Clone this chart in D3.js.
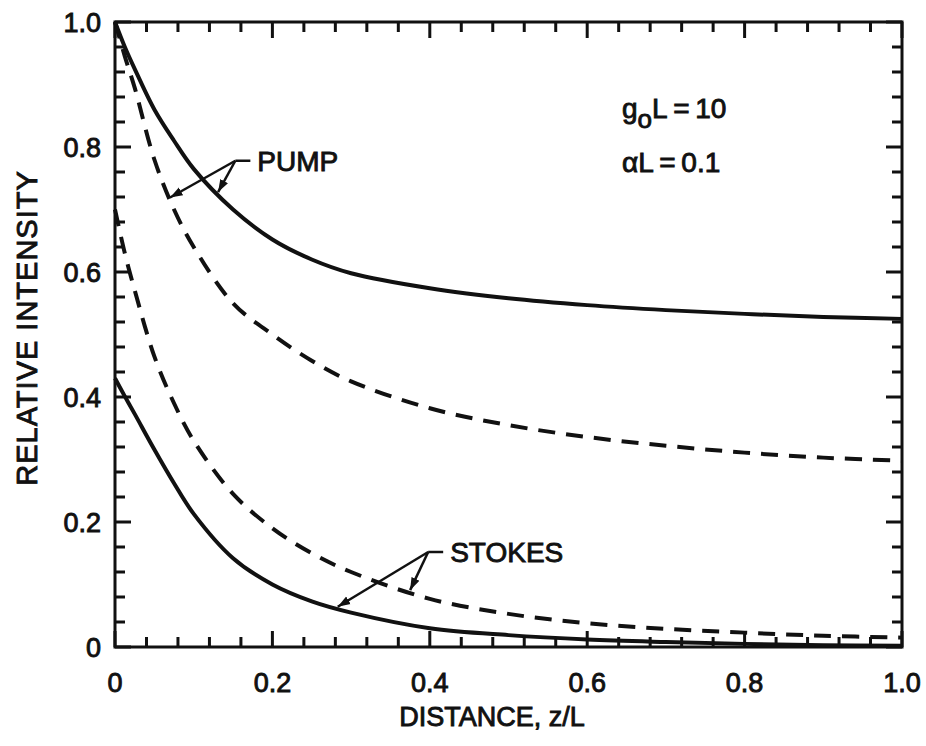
<!DOCTYPE html>
<html>
<head>
<meta charset="utf-8">
<script src="https://cdn.jsdelivr.net/npm/d3@7"></script>
<style>
  body { margin: 0; background: #fff; }
  svg text { font-family: "Liberation Sans", Arial, sans-serif; font-weight: normal; fill: #111; stroke: #111; stroke-width: 0.9px; }
</style>
</head>
<body>
<svg id="graph" width="926" height="746"></svg>
<script>
// distance z/L where the curves were read
const zValues = [0, 0.0125, 0.025, 0.05, 0.075, 0.1, 0.15, 0.2, 0.25, 0.3, 0.4, 0.5, 0.6, 0.7, 0.8, 0.9, 1.0];

// relative intensity
const pumpSolid    = [1.0, 0.96, 0.925, 0.86, 0.81, 0.765, 0.70, 0.652, 0.62, 0.598, 0.574, 0.558, 0.547, 0.539, 0.533, 0.528, 0.525];
const pumpDashed   = [1.0, 0.945, 0.895, 0.78, 0.70, 0.64, 0.55, 0.50, 0.458, 0.425, 0.382, 0.355, 0.336, 0.322, 0.311, 0.303, 0.298];
const stokesDashed = [0.70, 0.63, 0.571, 0.465, 0.39, 0.33, 0.245, 0.19, 0.15, 0.12, 0.077, 0.053, 0.038, 0.029, 0.023, 0.018, 0.015];
const stokesSolid  = [0.43, 0.401, 0.373, 0.316, 0.262, 0.213, 0.142, 0.10, 0.073, 0.055, 0.03, 0.019, 0.012, 0.008, 0.005, 0.003, 0.002];

const minorTicks = d3.range(0, 26).map(i => +(i * 0.04).toFixed(2));
const majorTicks = [0, 0.2, 0.4, 0.6, 0.8, 1.0];
const tickLabels = ["0", "0.2", "0.4", "0.6", "0.8", "1.0"];

const svg = d3.select("#graph");
const x = d3.scaleLinear().domain([0, 1]).range([115, 902]);
const y = d3.scaleLinear().domain([0, 1]).range([647, 22]);

const isMajor = v => majorTicks.some(m => Math.abs(m - v) < 1e-6);
const tickLen = v => isMajor(v) ? 16 : 10;

// frame
svg.append("rect")
    .attr("x", x(0)).attr("y", y(1))
    .attr("width", x(1) - x(0)).attr("height", y(0) - y(1))
    .attr("fill", "none").attr("stroke", "#111").attr("stroke-width", 3);

// inward ticks on all four sides
const ticks = svg.append("g").attr("stroke", "#111").attr("stroke-width", 3);

ticks.selectAll("line.bx").data(minorTicks).enter().append("line")
    .attr("x1", d => x(d)).attr("x2", d => x(d))
    .attr("y1", y(0)).attr("y2", d => y(0) - tickLen(d));
ticks.selectAll("line.tx").data(minorTicks).enter().append("line")
    .attr("x1", d => x(d)).attr("x2", d => x(d))
    .attr("y1", y(1)).attr("y2", d => y(1) + tickLen(d));
ticks.selectAll("line.ly").data(minorTicks).enter().append("line")
    .attr("y1", d => y(d)).attr("y2", d => y(d))
    .attr("x1", x(0)).attr("x2", d => x(0) + tickLen(d));
ticks.selectAll("line.ry").data(minorTicks).enter().append("line")
    .attr("y1", d => y(d)).attr("y2", d => y(d))
    .attr("x1", x(1)).attr("x2", d => x(1) - tickLen(d));

// tick labels
svg.selectAll("text.xl").data(majorTicks).enter().append("text")
    .attr("x", d => x(d)).attr("y", y(0) + 45)
    .attr("text-anchor", "middle").attr("font-size", 27)
    .text((d, i) => tickLabels[i]);

svg.selectAll("text.yl").data(majorTicks).enter().append("text")
    .attr("x", x(0) - 14).attr("y", d => y(d) + 10)
    .attr("text-anchor", "end").attr("font-size", 27)
    .text((d, i) => tickLabels[i]);

// curves
const line = d3.line()
    .x((d, i) => x(zValues[i]))
    .y(d => y(d))
    .curve(d3.curveCatmullRom.alpha(0.5));

const series = [
    { values: pumpSolid, dash: null },
    { values: pumpDashed, dash: "17,11" },
    { values: stokesDashed, dash: "17,11" },
    { values: stokesSolid, dash: null }
];

svg.selectAll("path.curve")
    .data(series)
    .enter().append("path")
    .attr("class", "curve")
    .attr("d", d => line(d.values))
    .attr("fill", "none")
    .attr("stroke", "#111")
    .attr("stroke-width", 4)
    .attr("stroke-dasharray", d => d.dash);

// arrow annotations
svg.append("defs").append("marker")
    .attr("id", "arrow")
    .attr("viewBox", "0 0 10 10")
    .attr("refX", 10).attr("refY", 5)
    .attr("markerWidth", 5).attr("markerHeight", 5)
    .attr("orient", "auto")
    .append("path").attr("d", "M0,1.5L10,5L0,8.5Z").attr("fill", "#111");

const valueAt = (arr, z) => d3.scaleLinear().domain(zValues).range(arr)(z);

const notes = [
    { text: "PUMP", z: 0.172, v: 0.778, targets: [[pumpSolid, 0.131], [pumpDashed, 0.07]] },
    { text: "STOKES", z: 0.417, v: 0.152, targets: [[stokesSolid, 0.283], [stokesDashed, 0.375]] }
];

notes.forEach(n => {
    const sx = x(n.z), sy = y(n.v);
    svg.append("line")
        .attr("x1", sx).attr("y1", sy).attr("x2", sx - 15).attr("y2", sy)
        .attr("stroke", "#111").attr("stroke-width", 2.5);
    n.targets.forEach(([arr, tz]) => {
        svg.append("line")
            .attr("x1", sx - 15).attr("y1", sy)
            .attr("x2", x(tz)).attr("y2", y(valueAt(arr, tz)) - 2)
            .attr("stroke", "#111").attr("stroke-width", 2.5)
            .attr("marker-end", "url(#arrow)");
    });
    svg.append("text")
        .attr("x", sx + 7).attr("y", sy + 10)
        .attr("font-size", 28)
        .text(n.text);
});

// parameters
const params = svg.append("text").attr("x", 622).attr("y", 118).attr("font-size", 28);
params.append("tspan").text("g");
params.append("tspan").attr("dy", 10).attr("font-size", 26).text("o");
params.append("tspan").attr("dy", -10).text("L\u2009=\u200910");

svg.append("text").attr("x", 622).attr("y", 172).attr("font-size", 28).text("\u03b1L\u2009=\u20090.1");

// axis titles
svg.append("text")
    .attr("x", 492).attr("y", 726)
    .attr("text-anchor", "middle")
    .attr("font-size", 27)
    .text("DISTANCE, z/L");

svg.append("text")
    .attr("transform", "translate(37,328) rotate(-90)")
    .attr("text-anchor", "middle")
    .attr("font-size", 29)
    .attr("letter-spacing", 1)
    .text("RELATIVE  INTENSITY");
</script>
</body>
</html>
